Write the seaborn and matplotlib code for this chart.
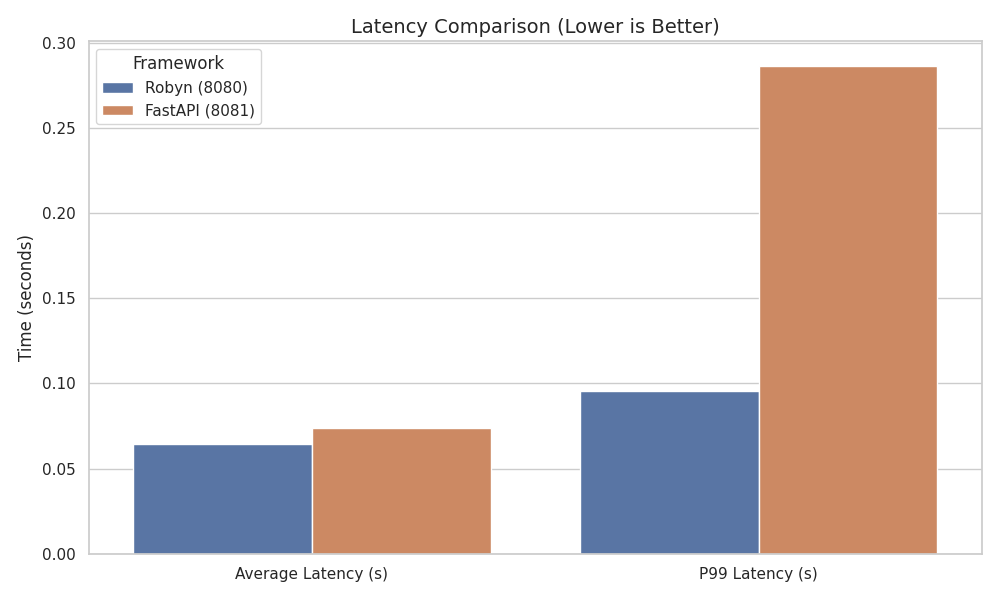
import seaborn as sns
import pandas as pd
import matplotlib
matplotlib.use("Agg")
import matplotlib.pyplot as plt

# values
metrics = ["Average Latency (s)", "P99 Latency (s)"]
frameworks = ["Robyn (8080)", "FastAPI (8081)"]
robyn_vals = [0.0647, 0.0958]
fastapi_vals = [0.0740, 0.2865]

df = pd.DataFrame({
    "Metric": metrics * 2,
    "Framework": [frameworks[0]] * 2 + [frameworks[1]] * 2,
    "Time": robyn_vals + fastapi_vals,
})

sns.set_theme(style="whitegrid")
fig, ax = plt.subplots(figsize=(10, 6), dpi=100)
sns.barplot(data=df, x="Metric", y="Time", hue="Framework", ax=ax)
ax.set_title("Latency Comparison (Lower is Better)", fontsize=14)
ax.set_xlabel("")
ax.set_ylabel("Time (seconds)")
ax.legend(title="Framework", loc="upper left")
plt.tight_layout()
plt.savefig("out.png")
